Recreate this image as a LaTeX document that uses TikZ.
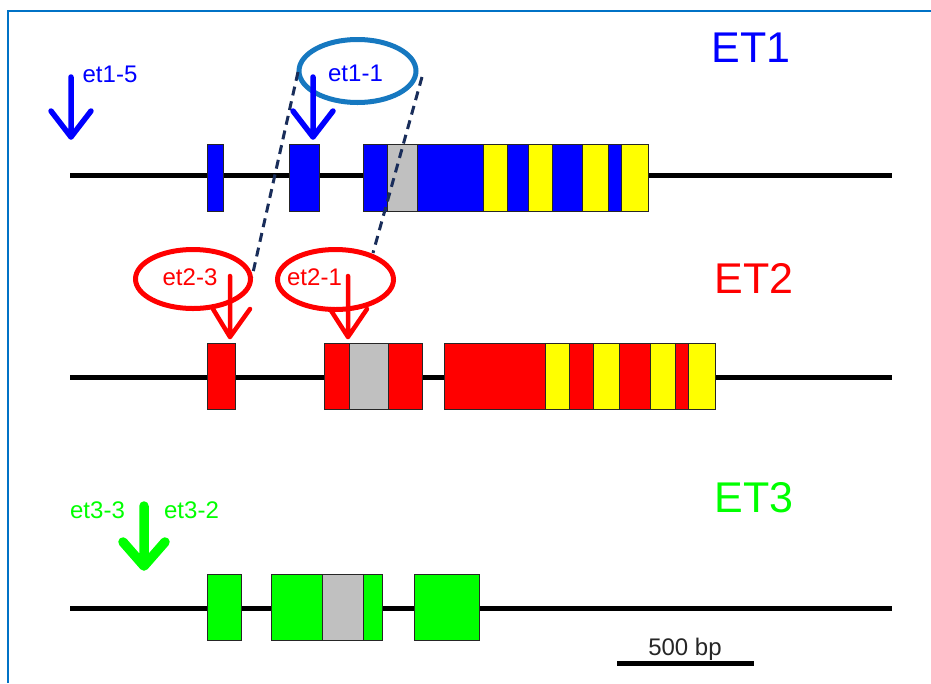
\documentclass[tikz,border=0pt]{standalone}
\usepackage{fontspec}
\setmainfont{Liberation Sans}
\usetikzlibrary{shapes.geometric}
\definecolor{eblue}{RGB}{0,0,255}
\definecolor{ered}{RGB}{255,0,0}
\definecolor{egreen}{RGB}{0,255,0}
\definecolor{eyellow}{RGB}{255,255,0}
\definecolor{egrey}{RGB}{192,192,192}
\definecolor{ringblue}{RGB}{22,120,192}
\definecolor{framecol}{RGB}{0,114,198}
\definecolor{navy}{RGB}{25,45,90}
\begin{document}
\begin{tikzpicture}[x=1pt,y=-1pt,
  exon/.style={draw=black!85,line width=0.9pt},
  gene/.style={line width=5pt},
  lab/.style={font=\fontsize{24}{24}\selectfont, inner sep=0pt, anchor=base},
  big/.style={font=\fontsize{43}{43}\selectfont, inner sep=0pt, anchor=base},
  ring/.style={ellipse, line width=5pt, inner sep=0pt, outer sep=0pt},
  siteptr/.style={line join=round, line cap=round},
  dashlink/.style={draw=navy, line width=3pt, dash pattern=on 9pt off 6pt}]
\useasboundingbox (0,0) rectangle (931,683);
% frame
\draw[framecol, line width=1.6pt] (8,683) -- (8,11) -- (931,11);

% gene lines
\draw[gene] (70,175) -- (892,175);
\draw[gene] (70,377) -- (892,377);
\draw[gene] (70,608) -- (892,608);

% ET1 exons
\draw[exon,fill=eblue] (207,144) rectangle (223,211);
\draw[exon,fill=eblue] (289,144) rectangle (319,211);
\foreach \a/\b/\c in {363/387/eblue,387/417/egrey,417/483/eblue,483/507/eyellow,507/528/eblue,528/552/eyellow,552/582/eblue,582/608/eyellow,608/621/eblue,621/648/eyellow}
  \draw[exon,fill=\c] (\a,144) rectangle (\b,211);

% ET2 exons
\draw[exon,fill=ered] (207,343) rectangle (235,409);
\foreach \a/\b/\c in {324/349/ered,349/388/egrey,388/422/ered}
  \draw[exon,fill=\c] (\a,343) rectangle (\b,409);
\foreach \a/\b/\c in {444/545/ered,545/569/eyellow,569/593/ered,593/619/eyellow,619/650/ered,650/675/eyellow,675/688/ered,688/715/eyellow}
  \draw[exon,fill=\c] (\a,343) rectangle (\b,409);

% ET3 exons
\draw[exon,fill=egreen] (207,574) rectangle (241,640);
\foreach \a/\b/\c in {271/322/egreen,322/363/egrey,363/382/egreen}
  \draw[exon,fill=\c] (\a,574) rectangle (\b,640);
\draw[exon,fill=egreen] (414,574) rectangle (479,640);

% rings
\node[ring, draw=ringblue, minimum width=117pt, minimum height=63pt] (c11) at (357.5,71) {};
\node[ring, draw=ered, minimum width=115pt, minimum height=59pt] (c23) at (193,279) {};
\node[ring, draw=ered, minimum width=116pt, minimum height=60pt] (c21) at (335.5,279.5) {};

% dashed links
\coordinate (d1a) at (298,72);
\coordinate (d1b) at (252,277);
\coordinate (d2a) at (422,77);
\coordinate (d2b) at (373,253);
\draw[dashlink] (d1a) -- (d1b);
\draw[dashlink] (d2a) -- (d2b);

% labels
\node[lab, text=eblue] (l15) at (110,82) {et1-5};
\node[lab, text=eblue] (l11) at (355.5,81) {et1-1};
\node[big, text=eblue] (n1) at (751,62) {ET1};
\node[lab, text=ered] (l23) at (190,285) {et2-3};
\node[lab, text=ered] (l21) at (314.5,285) {et2-1};
\node[big, text=ered] (n2) at (754,293) {ET2};
\node[lab, text=egreen] (l33) at (97.5,518) {et3-3};
\node[lab, text=egreen] (l32) at (191.5,518) {et3-2};
\node[big, text=egreen] (n3) at (754,512) {ET3};
\node[lab, text=black!85] (sb) at (685,655) {500 bp};

% arrows
\coordinate (a15t) at (71,77);  \coordinate (a15h) at (71,137);
\draw[eblue, line width=5.5pt, siteptr] (a15t) -- (a15h) (51,111) -- (a15h) -- (91,111);
\coordinate (a11t) at (313,77); \coordinate (a11h) at (313,137);
\draw[eblue, line width=5.5pt, siteptr] (a11t) -- (a11h) (293,111) -- (a11h) -- (333,111);
\coordinate (a23t) at (230,276); \coordinate (a23h) at (230,337);
\draw[ered, line width=4.5pt, siteptr] (a23t) -- (a23h) (213,309) -- (a23h) -- (250,309);
\coordinate (a21t) at (348,276); \coordinate (a21h) at (348,337);
\draw[ered, line width=4.5pt, siteptr] (a21t) -- (a21h) (330,309) -- (a21h) -- (367,309);
\coordinate (a3t) at (144,506); \coordinate (a3h) at (144,566);
\draw[egreen, line width=9.5pt, siteptr] (a3t) -- (a3h) (123,542) -- (a3h) -- (165,542);

% scale bar
\coordinate (s1) at (617,663); \coordinate (s2) at (754,663);
\draw[line width=5pt] (s1) -- (s2);
\end{tikzpicture}
\end{document}
